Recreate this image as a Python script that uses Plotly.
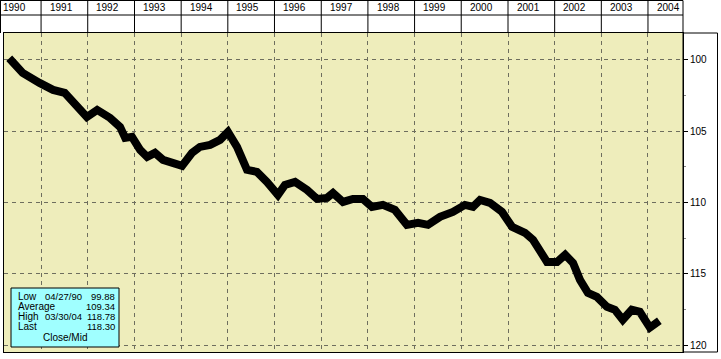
import plotly.graph_objects as go

# ---- data ----
dates = ["1990-04-27", "1990-08-10", "1990-12-20", "1991-04-05", "1991-07-05", "1991-09-22",
         "1991-12-25", "1992-03-15", "1992-06-24", "1992-09-10", "1992-10-20", "1992-12-12",
         "1993-02-14", "1993-04-10", "1993-06-10", "1993-08-12", "1993-10-28", "1994-01-08",
         "1994-03-27", "1994-05-28", "1994-08-15", "1994-11-01", "1995-01-02", "1995-03-14",
         "1995-05-31", "1995-08-17", "1995-11-03", "1996-01-28", "1996-03-23", "1996-06-10",
         "1996-09-12", "1996-11-29", "1997-02-15", "1997-04-03", "1997-06-20", "1997-09-06",
         "1997-11-23", "1998-02-02", "1998-04-28", "1998-07-31", "1998-11-02", "1999-01-28",
         "1999-04-16", "1999-07-19", "1999-10-28", "2000-01-30", "2000-04-02", "2000-05-27",
         "2000-08-13", "2000-11-15", "2001-02-02", "2001-05-14", "2001-07-16", "2001-09-09",
         "2001-11-02", "2002-01-20", "2002-03-24", "2002-05-25", "2002-07-18", "2002-09-18",
         "2002-11-27", "2003-02-14", "2003-04-17", "2003-06-18", "2003-08-27", "2003-10-29",
         "2004-01-16", "2004-03-30"]
values = [99.88, 100.91, 101.61, 102.10, 102.31, 103.02,
          104.00, 103.51, 104.07, 104.70, 105.47, 105.40,
          106.31, 106.80, 106.52, 107.01, 107.29, 107.43,
          106.52, 106.10, 105.96, 105.61, 105.05, 106.10,
          107.71, 107.85, 108.56, 109.47, 108.77, 108.56,
          109.12, 109.75, 109.68, 109.33, 109.96, 109.75,
          109.75, 110.31, 110.17, 110.52, 111.57, 111.43,
          111.57, 111.01, 110.66, 110.17, 110.31, 109.82,
          110.03, 110.66, 111.71, 112.13, 112.62, 113.32,
          114.17, 114.17, 113.67, 114.24, 115.43, 116.34,
          116.62, 117.32, 117.53, 118.23, 117.53, 117.67,
          118.78, 118.30]

years = list(range(1990, 2005))
year_labels = [str(y) for y in years]
y_ticks = [100, 105, 110, 115, 120]
y_minor = [102.5, 107.5, 112.5, 117.5]

stat_labels = ["Low", "Average", "High", "Last"]
stat_dates = ["04/27/90", "", "03/30/04", ""]
stat_values = ["99.88", "109.34", "118.78", "118.30"]
series_name = "Close/Mid"

x_range = ["1990-03-17", "2004-10-01"]
y_range = [120.49, 98.11]

# ---- geometry helpers (pixel -> paper) ----
W, H = 721, 359
ML, MR, MT, MB = 4, 38, 33, 7
PW, PH = W - ML - MR, H - MT - MB


def px(X):
    return (X - ML) / PW


def py(Y):
    return (H - MB - Y) / PH


FONT = "Liberation Sans, Arial, sans-serif"
BEIGE = "#EEEDBB"
GRID = "#6e6e5e"

fig = go.Figure()
fig.add_trace(go.Scatter(x=dates, y=values, mode="lines",
                         line=dict(color="black", width=8),
                         hoverinfo="skip", showlegend=False))

shapes = []
annotations = []

# header table (years row + empty row)
top, mid = py(0.5), py(15)
for yy in (top, mid):
    shapes.append(dict(type="line", xref="paper", yref="paper", x0=px(0), x1=1,
                       y0=yy, y1=yy, line=dict(color="black", width=1)))
shapes.append(dict(type="line", xref="paper", yref="paper", x0=px(0.5), x1=px(0.5),
                   y0=1, y1=top, line=dict(color="black", width=1)))
shapes.append(dict(type="line", xref="paper", yref="paper", x0=1, x1=1,
                   y0=1, y1=top, line=dict(color="black", width=1)))
for y in years[1:]:
    shapes.append(dict(type="line", xref="x", yref="paper", x0=f"{y}-01-01", x1=f"{y}-01-01",
                       y0=1, y1=top, line=dict(color="black", width=1)))
for y, lab in zip(years, year_labels):
    annotations.append(dict(x=f"{y}-07-01", xref="x", y=(top + mid) / 2, yref="paper",
                            text=lab, showarrow=False, xanchor="center", yanchor="middle",
                            xshift=-3, font=dict(family=FONT, size=10, color="black")))

# right axis box
shapes.append(dict(type="rect", xref="paper", yref="paper", x0=1, x1=px(717.5), y0=0, y1=1,
                   line=dict(color="black", width=1), fillcolor="rgba(0,0,0,0)", layer="above"))

# stats box
shapes.append(dict(type="rect", xref="paper", yref="paper", x0=px(11), x1=px(119),
                   y0=py(347), y1=py(288), line=dict(color="black", width=1),
                   fillcolor="#A0FFFF", layer="above"))
rows_y = [296, 306, 316, 326]
for lab, d, v, Y in zip(stat_labels, stat_dates, stat_values, rows_y):
    f10 = dict(family=FONT, size=10, color="black")
    f9 = dict(family=FONT, size=9.5, color="black")
    annotations.append(dict(x=px(16), y=py(Y), xref="paper", yref="paper", text=lab,
                            showarrow=False, xanchor="left", yanchor="middle", font=f10))
    if d:
        annotations.append(dict(x=px(43), y=py(Y), xref="paper", yref="paper", text=d,
                                showarrow=False, xanchor="left", yanchor="middle", font=f9))
    annotations.append(dict(x=px(117), y=py(Y), xref="paper", yref="paper", text=v,
                            showarrow=False, xanchor="right", yanchor="middle", font=f9))
annotations.append(dict(x=px(65), y=py(337), xref="paper", yref="paper", text=series_name,
                        showarrow=False, xanchor="center", yanchor="middle",
                        font=dict(family=FONT, size=10, color="black")))

fig.update_layout(
    width=W, height=H,
    margin=dict(l=ML, r=MR, t=MT, b=MB, pad=0),
    paper_bgcolor="white", plot_bgcolor=BEIGE,
    font=dict(family=FONT, size=10, color="black"),
    shapes=shapes, annotations=annotations,
    xaxis=dict(type="date", range=x_range, side="top",
               tickvals=[f"{y}-01-01" for y in years[1:]], showticklabels=False, ticks="",
               showgrid=True, gridcolor=GRID, griddash="4px,4px", gridwidth=1,
               showline=True, linecolor="black", linewidth=1, mirror=True, zeroline=False),
    yaxis=dict(range=y_range, side="right", tickvals=y_ticks,
               ticktext=[str(v) for v in y_ticks], ticks="outside", ticklen=4,
               tickcolor="black", showgrid=True, gridcolor=GRID, griddash="4px,4px",
               showline=True, linecolor="black", linewidth=1, mirror=True, zeroline=False,
               minor=dict(tickvals=y_minor, ticks="outside", ticklen=2, tickcolor="#888",
                          showgrid=False),
               tickfont=dict(family=FONT, size=10, color="black")),
)

fig.write_html("out.html", config={"displayModeBar": False},
               post_script="document.body.style.margin='0';document.body.style.overflow='hidden';")
